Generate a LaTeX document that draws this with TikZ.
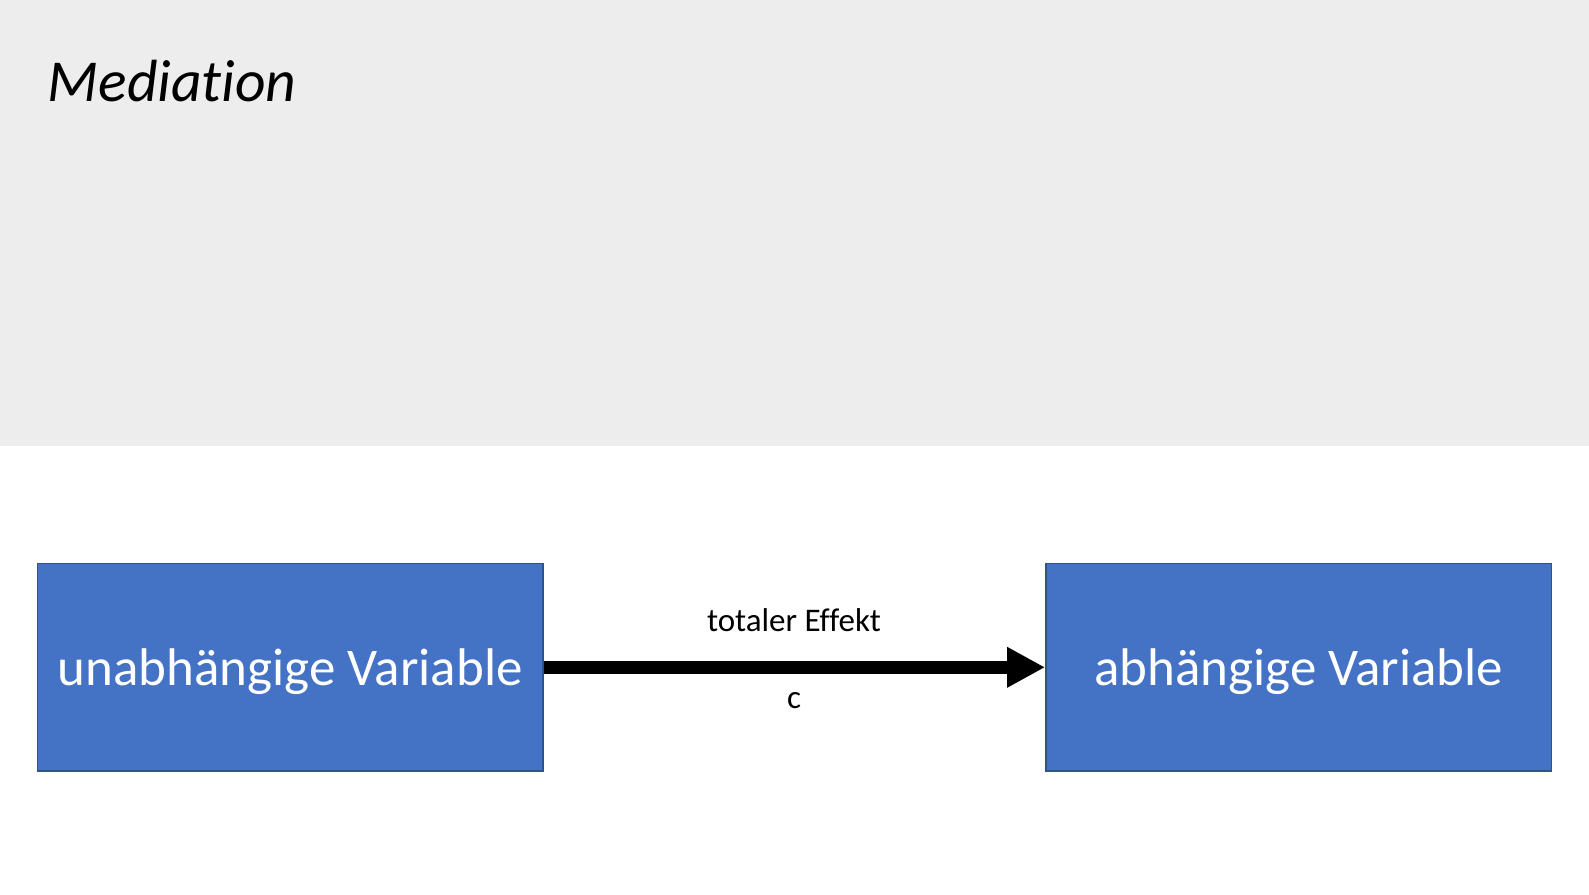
\documentclass[tikz,border=0pt]{standalone}
\usepackage{fontspec}
\setmainfont{Carlito}[Ligatures={NoCommon}]
\usetikzlibrary{arrows.meta}
\definecolor{bandgray}{HTML}{EDEDED}
\definecolor{boxblue}{HTML}{4472C4}
\definecolor{boxedge}{HTML}{2F528F}
\tikzset{
  varbox/.style={draw=boxedge, fill=boxblue, line width=1.5pt, minimum width=505.7pt, minimum height=207.7pt, inner sep=0pt},
  boxtext/.style={anchor=base, inner sep=0pt, text=white, font=\fontsize{53}{61}\selectfont},
  effarrow/.style={line width=13.3pt, -{Triangle[length=38pt, width=38pt]}},
  efflabel/.style={font=\fontsize{33}{40}\selectfont, inner sep=0pt}
}
\begin{document}
\begin{tikzpicture}[x=1pt, y=-1pt]
\useasboundingbox (0,0) rectangle (1589,894);
\fill[bandgray] (0,0) rectangle (1589,446);
\node[anchor=base west, inner sep=0pt, font=\fontsize{59.5}{72}\selectfont\itshape] (title) at (47.6,101) {Mediation};
\node[varbox] (uv) at (290.3,667.3) {};
\node[varbox] (av) at (1298.7,667.3) {};
\node[boxtext] (uvt) at (290.3,685) {unabhängige Variable};
\node[boxtext] (avt) at (1298.7,685) {abhängige Variable};
\draw[effarrow] (uv.east) -- (av.west);
\node[efflabel, anchor=base] (tot) at (794,631.7) {totaler Effekt};
\node[efflabel, anchor=base] (c) at (794,708.3) {c};
\end{tikzpicture}
\end{document}
